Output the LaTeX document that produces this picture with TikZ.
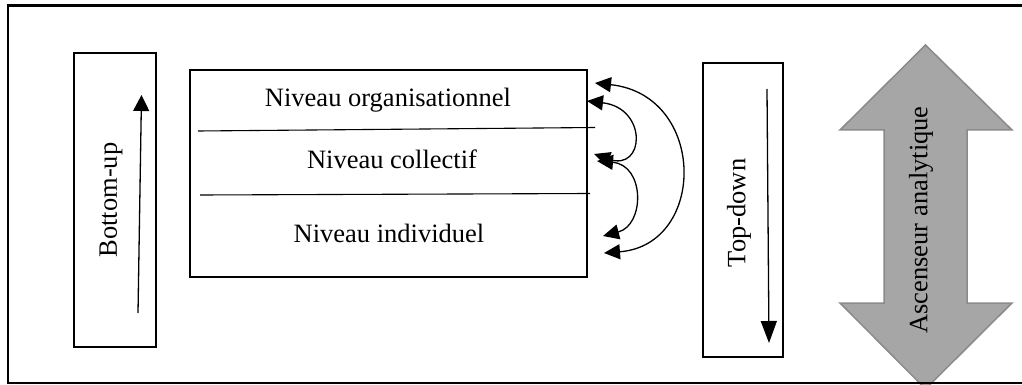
\documentclass[tikz,border=0pt]{standalone}
\usepackage{fontspec}
\setmainfont{Liberation Serif}
\usetikzlibrary{arrows.meta}
\definecolor{arrowgray}{HTML}{A6A6A6}
\definecolor{arrowedge}{HTML}{8A8A8A}
\begin{document}
\begin{tikzpicture}[x=1pt,y=-1pt,
  lbl/.style={font=\fontsize{26.5}{30}\selectfont, inner sep=0pt},
  boxthick/.style={draw, line width=2.2pt, inner sep=0pt},
  sepline/.style={line width=1.1pt},
  dblarc/.style={line width=1.3pt, {Triangle[length=16pt,width=15pt]}-{Triangle[length=16pt,width=15pt]}},
  uparrow/.style={line width=1.3pt, -{Triangle[length=16pt,width=16pt]}},
  downarrow/.style={line width=1.3pt, -{Triangle[length=22pt,width=16pt]}}
]
\useasboundingbox (0,0) rectangle (1022,385);
\clip (0,0) rectangle (1022,385);

% Big double arrow
\draw[fill=arrowgray, draw=arrowedge, line width=1.5pt]
  (925.5,45) -- (1012,130) -- (967,130) -- (967,303) -- (1012,303) -- (925.5,389)
  -- (840,303) -- (884,303) -- (884,130) -- (840,130) -- cycle;
\node[lbl, rotate=90] (asc) at (921,220) {Ascenseur analytique};

% Outer frame
\draw[line width=2.5pt] (1030,5.5) -- (8,5.5) -- (8,383) -- (1030,383);

% Bottom-up box
\node[boxthick, minimum width=82pt, minimum height=294pt] (bu) at (115,200) {};
\node[lbl, rotate=90] (butxt) at (111,200) {Bottom-up};
\coordinate (bus) at (138,313);
\coordinate (bue) at (141.5,95);
\draw[uparrow] (bus) -- (bue);

% Main levels box
\node[boxthick, minimum width=397pt, minimum height=207pt] (main) at (388.5,173.5) {};
\node[lbl, anchor=base] (org) at (388,107) {Niveau organisationnel};
\node[lbl, anchor=base] (col) at (392,168) {Niveau collectif};
\node[lbl, anchor=base] (ind) at (389,242) {Niveau individuel};
\coordinate (l1a) at (198,131);
\coordinate (l1b) at (595,127.5);
\coordinate (l2a) at (200,195);
\coordinate (l2b) at (590,193.5);
\draw[sepline] (l1a) -- (l1b);
\draw[sepline] (l2a) -- (l2b);

% Curved double arrows
\coordinate (oa) at (595,83);
\coordinate (ob) at (604,253);
\draw[dblarc] (oa) .. controls (707,95) and (707,245) .. (ob);
\coordinate (ua) at (587,101);
\coordinate (ub) at (594,154);
\draw[dblarc] (ua) .. controls (648,108) and (645,172) .. (ub);
\coordinate (da) at (597,161);
\coordinate (db) at (603,236);
\draw[dblarc] (da) .. controls (645,165) and (645,225) .. (db);

% Top-down box
\node[boxthick, minimum width=80pt, minimum height=294pt] (td) at (743,210) {};
\node[lbl, rotate=90] (tdtxt) at (739,213) {Top-down};
\coordinate (tds) at (767,89);
\coordinate (tde) at (769,343);
\draw[downarrow] (tds) -- (tde);
\end{tikzpicture}
\end{document}
